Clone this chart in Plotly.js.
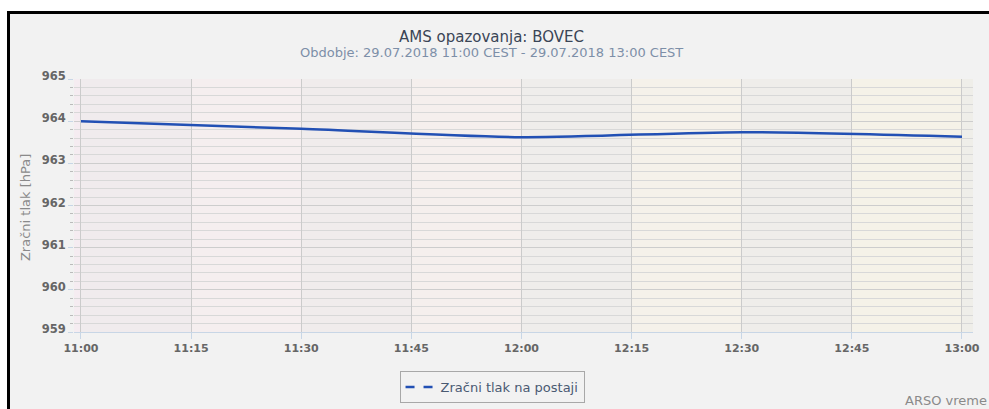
<!DOCTYPE html>
<html>
<head>
<meta charset="utf-8">
<script src="https://cdn.plot.ly/plotly-3.0.1.min.js"></script>
<style>
html,body{margin:0;padding:0;background:#ffffff;width:989px;height:409px;overflow:hidden;}
#wrap{position:absolute;left:7px;top:11px;width:982px;height:398px;border-left:3px solid #000;border-top:3px solid #000;background:#f2f2f2;box-sizing:border-box;}
#chart{position:absolute;left:0;top:0;width:979px;height:395px;}
</style>
</head>
<body>
<div id="wrap"><div id="chart"></div></div>
<script>
// Data
const day = '2018-07-29 ';
const times = ['11:00', '11:30', '12:00', '12:30', '13:00'];
const pressure = [964.00, 963.82, 963.62, 963.74, 963.63];
const tickLabels = ['11:00', '11:15', '11:30', '11:45', '12:00', '12:15', '12:30', '12:45', '13:00'];
const seriesName = 'Zračni tlak na postaji';
const titleText = 'AMS opazovanja: BOVEC';
const subtitleText = 'Obdobje: 29.07.2018 11:00 CEST - 29.07.2018 13:00 CEST';
const yTitle = 'Zračni tlak [hPa]';
const creditText = 'ARSO vreme';

const xs = times.map(t => day + t);
const tickVals = tickLabels.map(t => day + t);
const xStart = day + '10:59:03';
const xEnd = day + '13:01:30';

// background bands (alternating, tinted from pink to cream)
const bandEdges = [xStart].concat(tickVals).concat([xEnd]);
const shapes = [];
function mix(a, b, t) {
  return 'rgb(' + a.map((v, i) => Math.round(v + (b[i] - v) * t)).join(',') + ')';
}
const tintA = [245, 236, 241], tintB = [245, 243, 231];
const grayA = [240, 235, 238], grayB = [239, 238, 233];
for (let i = 0; i < bandEdges.length - 1; i++) {
  const t = i / (bandEdges.length - 2);
  const tinted = (i % 2 === 0);
  shapes.push({
    type: 'rect', xref: 'x', yref: 'paper', layer: 'below',
    x0: bandEdges[i], x1: bandEdges[i + 1], y0: 0, y1: 1,
    fillcolor: tinted ? mix(tintA, tintB, t) : mix(grayA, grayB, t),
    line: {width: 0}
  });
}

const traces = [
  {
    x: xs, y: pressure, type: 'scatter', mode: 'lines',
    line: {color: '#2250b4', width: 2.5, shape: 'spline', smoothing: 0.8},
    showlegend: false, hoverinfo: 'x+y'
  },
  {
    x: [null], y: [null], type: 'scatter', mode: 'lines', name: seriesName,
    line: {color: '#2250b4', width: 2.5, dash: 'dash'},
    showlegend: true
  }
];

const layout = {
  width: 979, height: 395,
  margin: {l: 64, r: 16, t: 65, b: 77, autoexpand: false},
  paper_bgcolor: '#f2f2f2',
  plot_bgcolor: '#eeeded',
  font: {family: 'DejaVu Sans', color: '#666'},
  shapes: shapes,
  xaxis: {
    type: 'date', range: [xStart, xEnd],
    tickvals: tickVals, ticktext: tickLabels,
    tickfont: {family: 'DejaVu Sans', size: 11, color: '#666', weight: 'bold'},
    showgrid: true, gridcolor: '#cbcbcb', gridwidth: 1,
    ticks: 'outside', ticklen: 6, tickcolor: '#c8d6e6',
    showline: true, linecolor: '#c8d6e6', linewidth: 1,
    zeroline: false, fixedrange: true
  },
  yaxis: {
    range: [959, 965], dtick: 1, tick0: 959,
    tickfont: {family: 'DejaVu Sans', size: 11.5, color: '#666', weight: 'bold'},
    ticklabelshift: -3,
    showgrid: true, gridcolor: '#cdcdcd', gridwidth: 1,
    ticks: 'outside', ticklen: 5, tickcolor: '#c8d6e6',
    minor: {dtick: 0.2, showgrid: true, gridcolor: '#d8d8d8', gridwidth: 1, ticks: 'outside', ticklen: 3, tickcolor: '#bbbbbb'},
    showline: false, zeroline: false, fixedrange: true
  },
  legend: {
    orientation: 'h', x: 0.465, xanchor: 'center', y: -0.154, yanchor: 'top',
    bgcolor: '#f2f2f2', bordercolor: '#a8a8a8', borderwidth: 1,
    itemwidth: 30,
    font: {family: 'DejaVu Sans', size: 13, color: '#4a5a72'}
  },
  annotations: [
    {text: titleText, xref: 'paper', yref: 'paper', x: 0.464, y: 1.166, showarrow: false,
     xanchor: 'center', yanchor: 'middle', font: {family: 'DejaVu Sans', size: 15, color: '#3a4556'}},
    {text: subtitleText, xref: 'paper', yref: 'paper', x: 0.464, y: 1.104, showarrow: false,
     xanchor: 'center', yanchor: 'middle', font: {family: 'DejaVu Sans', size: 13, color: '#7d8fa8'}},
    {text: yTitle, xref: 'paper', yref: 'paper', x: -0.0545, y: 0.49, showarrow: false, textangle: -90,
     xanchor: 'center', yanchor: 'middle', font: {family: 'DejaVu Sans', size: 13, color: '#8a8a8a'}},
    {text: creditText, xref: 'paper', yref: 'paper', x: 1.0178, y: -0.272, showarrow: false,
     xanchor: 'right', yanchor: 'middle', font: {family: 'DejaVu Sans', size: 13, color: '#8a8a8a'}}
  ]
};

Plotly.newPlot('chart', traces, layout, {displayModeBar: false, staticPlot: true});
</script>
</body>
</html>
